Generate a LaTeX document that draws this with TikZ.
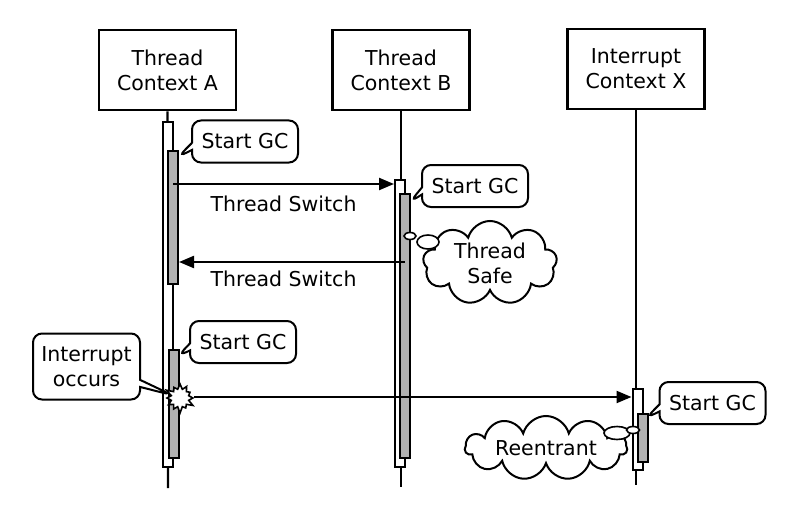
\documentclass[tikz,border=0pt]{standalone}
\usepackage{fontspec}
\setmainfont{DejaVu Sans}
\usetikzlibrary{shapes.symbols,shapes.callouts,shapes.geometric,arrows.meta}
\begin{document}
\begin{tikzpicture}[x=1pt,y=-1pt,
  every node/.style={font=\fontsize{20.5}{25}\selectfont},
  ctx/.style={draw,line width=2.6pt,minimum width=137pt,minimum height=80pt,align=center,inner sep=2pt},
  life/.style={line width=2.2pt},
  outerbar/.style={draw,fill=white,line width=2pt,minimum width=10pt,anchor=north,inner sep=0pt},
  graybar/.style={draw,fill=black!30,line width=2pt,minimum width=10pt,anchor=north,inner sep=0pt},
  msg/.style={line width=2.2pt,-{Triangle[length=15pt,width=12pt]}},
  gc/.style={rectangle callout,draw,fill=white,line width=2pt,rounded corners=9pt,minimum width=106pt,minimum height=42pt,inner sep=2pt},
  thought/.style={cloud,cloud ignores aspect,draw,fill=white,line width=2pt,align=center,inner sep=0pt},
  bub/.style={ellipse,draw,fill=white,line width=1.6pt,inner sep=0pt}
]
\useasboundingbox (0,0) rectangle (800,524);
% context boxes
\node[ctx] (A) at (167.5,70) {Thread\\Context A};
\node[ctx] (B) at (401,70) {Thread\\Context B};
\node[ctx] (X) at (636,69) {Interrupt\\Context X};
% lifelines
\coordinate (Aend) at (168,488);
\coordinate (Bend) at (401,487);
\coordinate (Xend) at (636,485);
\draw[life] (A.south) -- (Aend);
\draw[life] (B.south) -- (Bend);
\draw[life] (X.south) -- (Xend);
% activation bars
\node[outerbar,minimum height=345pt] (Aout) at (167.5,121) {};
\node[graybar,minimum height=133pt] (A1) at (173,150) {};
\node[graybar,minimum height=108pt] (A2) at (173.5,349) {};
\node[outerbar,minimum height=287pt] (Bout) at (400,179) {};
\node[graybar,minimum height=264pt] (Bg) at (405,193) {};
\node[outerbar,minimum height=81pt] (Xout) at (637.5,388) {};
\node[graybar,minimum height=48pt] (Xg) at (642.5,413) {};
% messages
\coordinate (m1) at (0,184);
\coordinate (m2) at (0,262);
\coordinate (m3) at (0,397);
\draw[msg] (A1.center |- m1) -- (Bout.west |- m1);
\node (t1) at (283.5,204) {Thread Switch};
\draw[msg] (Bg.center |- m2) -- (A1.east |- m2);
\node (t2) at (283.5,279) {Thread Switch};
% starburst
\node[starburst,draw,fill=white,line width=1.6pt,minimum width=32pt,minimum height=32pt,starburst points=12,starburst point height=7pt,inner sep=0pt] (burst) at (180,398) {};
\draw[msg] (burst.east |- m3) -- (Xout.west |- m3);
% callouts
\node[gc,callout absolute pointer={(178,157)}] (gc1) at (245,141.5) {Start GC};
\node[gc,callout absolute pointer={(410,202)}] (gc2) at (475,186) {Start GC};
\node[gc,callout absolute pointer={(178,356)}] (gc3) at (243,342) {Start GC};
\node[gc,callout absolute pointer={(646,418)}] (gc4) at (712.5,403) {Start GC};
\node[gc,align=center,minimum width=107pt,minimum height=66pt,callout absolute pointer={(172,395)}] (intr) at (86.5,366.5) {Interrupt\\occurs};
% clouds
\node[thought,cloud puffs=9,minimum width=134pt,minimum height=84pt] (safe) at (490,263) {Thread\\Safe};
\node[bub,minimum width=12pt,minimum height=7pt] (b1) at (410,236) {};
\node[bub,minimum width=22pt,minimum height=14pt] (b2) at (428,242) {};
\node[thought,cloud puffs=11,minimum width=162pt,minimum height=64pt] (reen) at (546,448) {Reentrant};
\node[bub,minimum width=26pt,minimum height=13pt] (b4) at (617,433) {};
\node[bub,minimum width=13pt,minimum height=7pt] (b3) at (633,430) {};
\end{tikzpicture}
\end{document}
